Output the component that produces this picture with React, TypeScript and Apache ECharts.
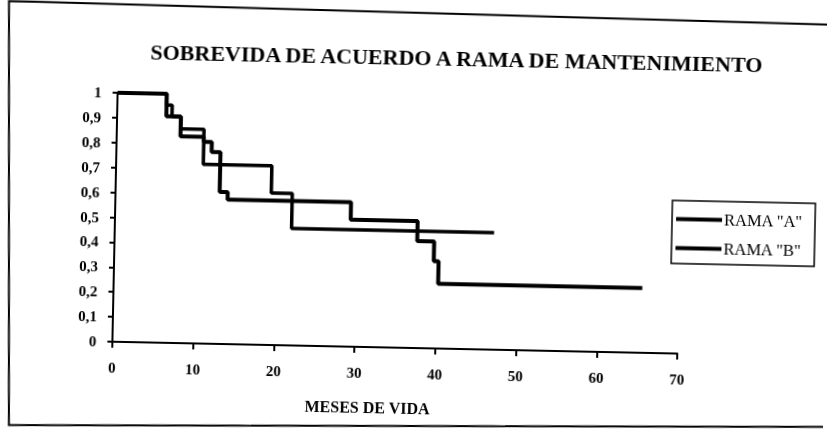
import React, { useEffect, useRef } from "react";
import * as echarts from "echarts";

const titleText = "SOBREVIDA DE ACUERDO A RAMA DE MANTENIMIENTO";
const xAxisName = "MESES DE VIDA";
const seriesNames = ['RAMA "A"', 'RAMA "B"'];

// Kaplan-Meier steps (months, survival)
const monthsA = [0, 6.1, 6.8, 7.9, 10.8, 19.3, 21.9, 47];
const survivalA = [1, 0.955, 0.91, 0.86, 0.72, 0.61, 0.47, 0.47];
const monthsB = [0, 6.1, 7.9, 10.8, 11.8, 12.9, 13.9, 29.2, 37.5, 39.6, 40.2, 65.5];
const survivalB = [1, 0.91, 0.83, 0.81, 0.77, 0.61, 0.58, 0.51, 0.43, 0.35, 0.26, 0.26];

const xTickLabels = ["0", "10", "20", "30", "40", "50", "60", "70"];
const yTickLabels = ["0", "0,1", "0,2", "0,3", "0,4", "0,5", "0,6", "0,7", "0,8", "0,9", "1"];

const SERIF = '"Liberation Serif", "Times New Roman", serif';

export default function App() {
  const ref = useRef<HTMLDivElement>(null);
  useEffect(() => {
    const chart = echarts.init(ref.current!, null, { renderer: "svg" });
    const dataA = monthsA.map((m, i) => [m, survivalA[i]]);
    const dataB = monthsB.map((m, i) => [m, survivalB[i]]);
    chart.setOption({
      animation: false,
      backgroundColor: "transparent",
      grid: { left: 115, top: 99, width: 565, height: 249, containLabel: false },
      legend: {
        orient: "vertical",
        left: 672,
        top: 195,
        data: [
          { name: seriesNames[0], icon: "rect" },
          { name: seriesNames[1], icon: "rect" },
        ],
        itemWidth: 46,
        itemHeight: 4,
        itemGap: 12,
        padding: [10, 12, 7, 4],
        borderColor: "#000",
        borderWidth: 1.5,
        itemStyle: { color: "#000" },
        textStyle: { fontFamily: SERIF, fontSize: 16.5, color: "#000", padding: [0, 0, 0, -3] },
      },
      xAxis: {
        type: "value",
        min: 0,
        max: 70,
        interval: 10,
        splitLine: { show: false },
        axisLine: { show: true, onZero: false, lineStyle: { color: "#000", width: 2 } },
        axisTick: { show: true, length: 6, lineStyle: { color: "#000", width: 2 } },
        axisLabel: {
          margin: 18,
          fontFamily: SERIF,
          fontWeight: "bold",
          fontSize: 15,
          color: "#000",
          formatter: (v: number) => xTickLabels[Math.round(v / 10)] ?? "",
        },
      },
      yAxis: {
        type: "value",
        min: 0,
        max: 1,
        interval: 0.1,
        splitLine: { show: false },
        axisLine: { show: true, lineStyle: { color: "#000", width: 2 } },
        axisTick: { show: true, length: 5, lineStyle: { color: "#000", width: 2 } },
        axisLabel: {
          margin: 16,
          fontFamily: SERIF,
          fontWeight: "bold",
          fontSize: 15,
          color: "#000",
          formatter: (v: number) => yTickLabels[Math.round(v * 10)] ?? "",
        },
      },
      graphic: [
        {
          type: "polyline",
          shape: { points: [[840, 16], [4.5, 9.5], [13.3, 433.5], [840, 418]] },
          style: { stroke: "#000", lineWidth: 2, fill: null },
          silent: true,
        },
        {
          type: "text",
          x: 453,
          y: 57,
          style: {
            text: titleText,
            font: `bold 22px ${SERIF}`,
            fill: "#000",
            align: "center",
            verticalAlign: "middle",
          },
        },
        {
          type: "text",
          x: 371,
          y: 408,
          style: {
            text: xAxisName,
            font: `bold 16px ${SERIF}`,
            fill: "#000",
            align: "center",
            verticalAlign: "middle",
          },
        },
      ],
      series: [
        {
          name: seriesNames[0],
          type: "line",
          step: "end",
          data: dataA,
          symbol: "none",
          lineStyle: { color: "#000", width: 3.5 },
          itemStyle: { color: "#000" },
          z: 5,
        },
        {
          name: seriesNames[1],
          type: "line",
          step: "end",
          data: dataB,
          symbol: "none",
          lineStyle: { color: "#000", width: 4 },
          itemStyle: { color: "#000" },
          z: 5,
        },
      ],
    });
    return () => chart.dispose();
  }, []);
  return (
    <div
      ref={ref}
      style={{
        position: "fixed",
        left: 0,
        top: 0,
        width: 827,
        height: 440,
        transform: "rotate(1.2deg)",
        transformOrigin: "413.5px 220px",
      }}
    />
  );
}
